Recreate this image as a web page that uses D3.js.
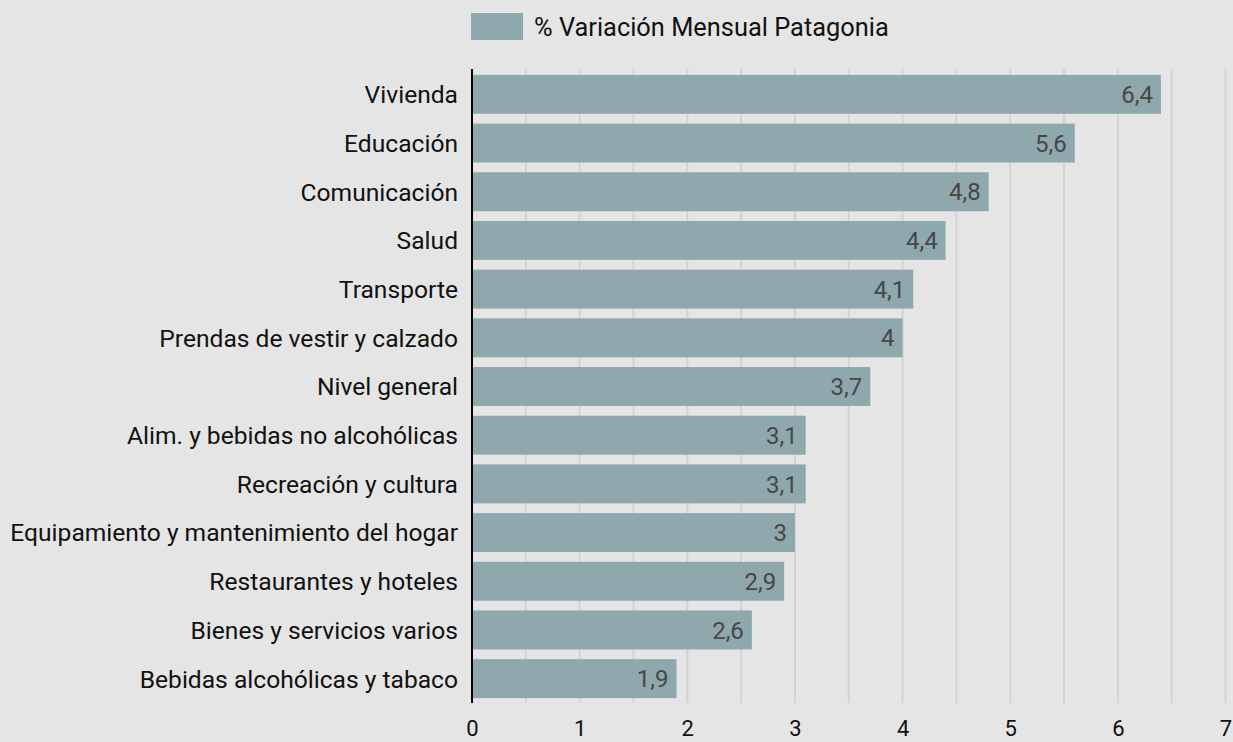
<!DOCTYPE html>
<html>
<head>
<meta charset="utf-8">
<script src="https://cdn.jsdelivr.net/npm/d3@7"></script>
<style>
  html, body { margin: 0; padding: 0; background: #e5e5e5; }
  svg { display: block; font-family: Roboto, sans-serif; }
</style>
</head>
<body>
<script>
var width = 1233,
    height = 742

// data
var categories = [
    "Vivienda", "Educación", "Comunicación", "Salud", "Transporte",
    "Prendas de vestir y calzado", "Nivel general", "Alim. y bebidas no alcohólicas",
    "Recreación y cultura", "Equipamiento y mantenimiento del hogar",
    "Restaurantes y hoteles", "Bienes y servicios varios", "Bebidas alcohólicas y tabaco"
]
var values = [6.4, 5.6, 4.8, 4.4, 4.1, 4.0, 3.7, 3.1, 3.1, 3.0, 2.9, 2.6, 1.9]
var xTicks = [0, 1, 2, 3, 4, 5, 6, 7]
var seriesName = "% Variación Mensual Patagonia"

var margin = {top: 69, right: 7, bottom: 39, left: 472}

var barColor = "#8fa8ae"

var svg = d3.select("body").append("svg")
    .attr("width", width)
    .attr("height", height)

svg.append("rect")
    .attr("width", width)
    .attr("height", height)
    .attr("fill", "#e5e5e5")

var x = d3.scaleLinear()
    .domain([0, 7])
    .range([margin.left, margin.left + 753.5])

var y = d3.scaleBand()
    .domain(categories)
    .range([margin.top + 1, height - margin.bottom])
    .paddingInner(0.2)
    .paddingOuter(0.1)

// gridlines every half unit
var gridVals = d3.range(0.5, 7.01, 0.5)
svg.append("g")
    .attr("class", "grid")
    .selectAll("line")
    .data(gridVals)
    .enter().append("line")
    .attr("x1", d => x(d))
    .attr("x2", d => x(d))
    .attr("y1", margin.top)
    .attr("y2", height - margin.bottom)
    .attr("stroke", "#d3d3d3")
    .attr("stroke-width", 2)

svg.append("g")
    .selectAll("rect")
    .data(values)
    .enter().append("rect")
    .attr("x", x(0))
    .attr("y", (d, i) => y(categories[i]))
    .attr("width", d => x(d) - x(0))
    .attr("height", y.bandwidth())
    .attr("fill", barColor)

// value labels inside bar ends
svg.append("g")
    .selectAll("text")
    .data(values)
    .enter().append("text")
    .attr("x", d => x(d) - 8)
    .attr("y", (d, i) => y(categories[i]) + y.bandwidth() / 2)
    .attr("dy", "0.36em")
    .attr("text-anchor", "end")
    .attr("font-size", 24)
    .attr("fill", "#474747")
    .text(d => String(d).replace(".", ","))

// category labels
svg.append("g")
    .selectAll("text")
    .data(categories)
    .enter().append("text")
    .attr("x", margin.left - 14)
    .attr("y", d => y(d) + y.bandwidth() / 2)
    .attr("dy", "0.36em")
    .attr("text-anchor", "end")
    .attr("font-size", 24.6)
    .attr("fill", "#111")
    .text(d => d)

// bottom axis labels
var xAxis = d3.axisBottom(x)
    .tickValues(xTicks)
    .tickSize(0)
    .tickFormat(d3.format("d"))
var gx = svg.append("g")
    .attr("transform", `translate(0,${height - margin.bottom})`)
    .call(xAxis)
gx.select(".domain").remove()
gx.selectAll("text")
    .attr("y", 33)
    .attr("dy", null)
    .attr("font-size", 22)
    .attr("font-family", "Roboto, sans-serif")
    .attr("fill", "#111")

// zero line
svg.append("line")
    .attr("x1", x(0))
    .attr("x2", x(0))
    .attr("y1", margin.top)
    .attr("y2", height - margin.bottom)
    .attr("stroke", "#000")
    .attr("stroke-width", 2)

// legend
svg.append("rect")
    .attr("x", 471)
    .attr("y", 13)
    .attr("width", 52)
    .attr("height", 27)
    .attr("fill", barColor)
svg.append("text")
    .attr("x", 534)
    .attr("y", 27)
    .attr("dy", "0.36em")
    .attr("font-size", 25.4)
    .attr("fill", "#111")
    .text(seriesName)
</script>
</body>
</html>
